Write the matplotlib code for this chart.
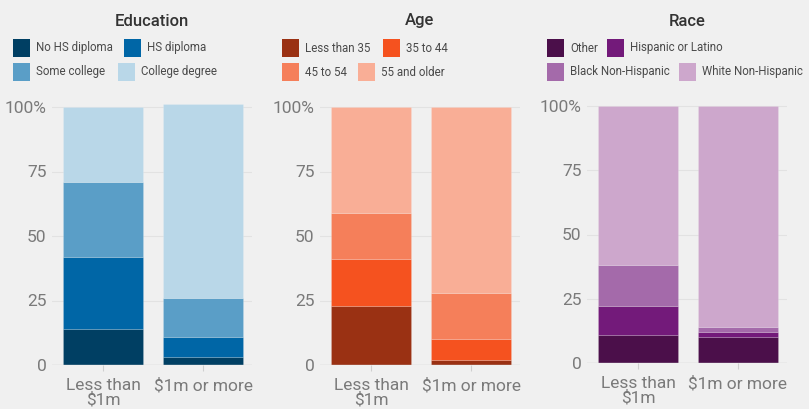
import matplotlib
matplotlib.use('Agg')
import matplotlib.pyplot as plt
from matplotlib.patches import Rectangle

# ....................................................... data
groups = ['Less than\n$1m', '$1m or more']

edu_labels = ['No HS diploma', 'HS diploma', 'Some college', 'College degree']
edu_less = [14, 28, 29, 29]
edu_more = [3, 8, 15, 75]

age_labels = ['Less than 35', '35 to 44', '45 to 54', '55 and older']
age_less = [23, 18, 18, 41]
age_more = [2, 8, 18, 72]

race_labels = ['Other', 'Hispanic or Latino', 'Black Non-Hispanic', 'White Non-Hispanic']
race_less = [11, 11, 16, 62]
race_more = [10, 2, 2, 86]

# ....................................................... style
W, H = 809, 409
BG = '#f0f0f0'
edu_cols = ['#003f63', '#0066a6', '#5a9ec7', '#b9d7e8']
age_cols = ['#9a3113', '#f5521f', '#f57f5a', '#f9ae96']
race_cols = ['#4b0f4a', '#731a7a', '#a46aaa', '#cda7cc']

plt.rcParams['font.family'] = ['Roboto', 'DejaVu Sans']

fig = plt.figure(figsize=(W/100, H/100), dpi=100)
fig.patch.set_facecolor(BG)

# panel: (title, labels, less, more, colours, axes left px, zero y px, 100 y px,
#         legend swatch x px for each entry)
panels = [
  ('Education', edu_labels, edu_less, edu_more, edu_cols, 52, 365, 107,
   [13, 124, 13, 118]),
  ('Age', age_labels, age_less, age_more, age_cols, 320, 365, 107,
   [282, 383, 282, 358]),
  ('Race', race_labels, race_less, race_more, race_cols, 587, 363, 106,
   [547, 607, 547, 679]),
]

def fx(px):
  return px/W
def fy(py):
  return 1-py/H

for title, labels, less, more, cols, left, y0, y100, legx in panels:
  pxper = (y0-y100)/100.0
  top = 102
  ax = fig.add_axes([fx(left), fy(y0), 200/W, top*pxper/H])
  ax.set_facecolor(BG)
  bl = 0
  bm = 0
  for i in range(4):
    ax.bar([0, 1], [less[i], more[i]], bottom=[bl, bm], width=0.8,
           color=cols[i], edgecolor=(1, 1, 1, 0.2), linewidth=0.5, zorder=3)
    bl += less[i]
    bm += more[i]
  ax.set_xlim(-0.51, 1.49)
  ax.set_ylim(0, top)
  ax.set_yticks([0, 25, 50, 75, 100])
  ax.set_yticklabels(['0', '25', '50', '75', '100%'])
  ax.set_xticks([0, 1])
  ax.set_xticklabels(groups, linespacing=0.95)
  for y in [25, 50, 75, 100]:
    ax.axhline(y, color='#e2e2e2', lw=0.8, zorder=1)
  ax.axhline(0, color='#cfcfcf', lw=1.0, zorder=4)
  for s in ax.spines.values():
    s.set_visible(False)
  ax.tick_params(axis='y', length=0, pad=4, labelsize=12.5, labelcolor='#7a7a7a')
  ax.tick_params(axis='x', length=4, width=0.8, color='#cfcfcf', pad=5,
                 labelsize=12.5, labelcolor='#7a7a7a')
  fig.text(fx(left+100), fy(21), title, ha='center', va='center',
           fontsize=12, color='#333333', fontweight='medium')
  # legend, two rows of two
  for i in range(4):
    ry = 48 if i < 2 else 72
    sx = legx[i]
    fig.patches.append(Rectangle((fx(sx), fy(ry+8.5)), 17/W, 17/H,
                                 transform=fig.transFigure, figure=fig,
                                 facecolor=cols[i], edgecolor='none'))
    fig.text(fx(sx+23), fy(ry), labels[i], ha='left', va='center',
             fontsize=8.3, color='#4a4a4a')

plt.savefig('out.png', dpi=100, facecolor=BG)
